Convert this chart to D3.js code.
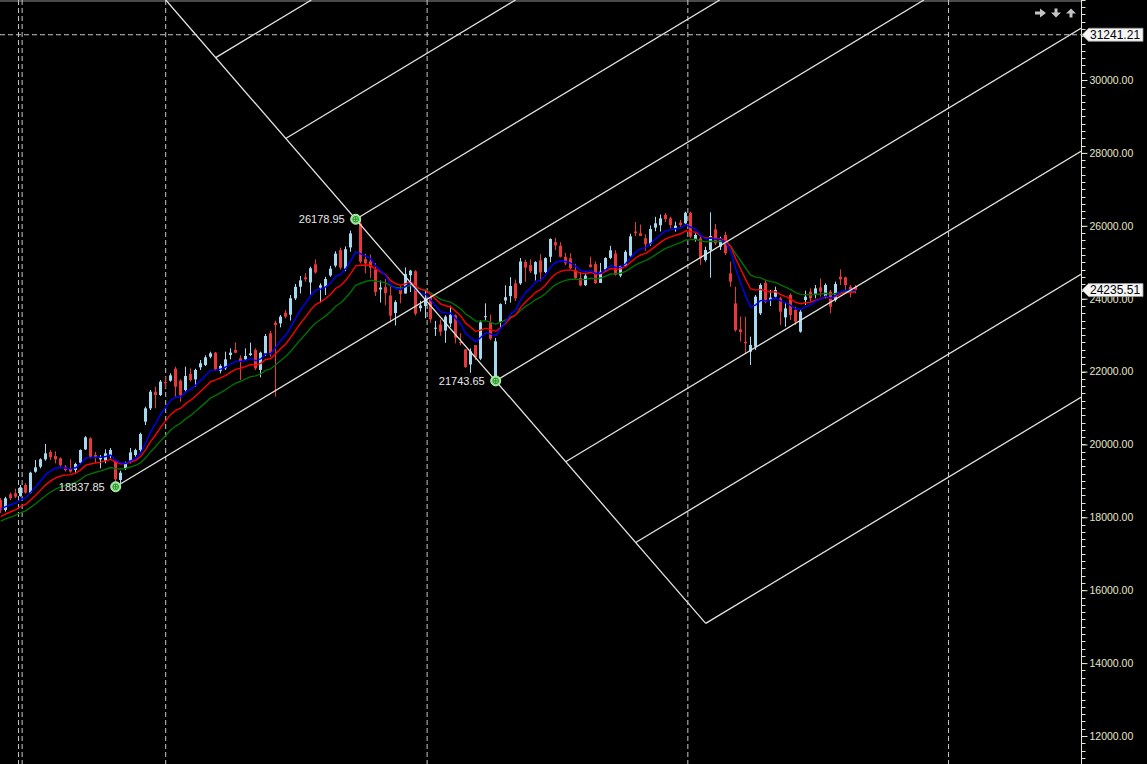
<!DOCTYPE html>
<html><head><meta charset="utf-8">
<script src="https://cdn.jsdelivr.net/npm/d3@7"></script>
<style>html,body{margin:0;padding:0;background:#000;overflow:hidden}</style>
</head><body><svg id="c" width="1147" height="764"></svg>
<script>
// ---------- DATA (weekly candles) ----------
const firstWeek = "2023-05-15";
const opens = [18475,18201,18632,18660,18585,18887,18676,19252,19390,19592,19792,19683,19619,19390,19345,19299,19499,19866,20168,19710,
19592,19554,19683,19554,19024,19335,19554,19710,19847,20625,20991,21447,21356,21713,21750,22079,21750,21493,21932,21786,
22116,22180,22408,22518,22024,22088,22454,22591,22363,22335,22454,22591,22043,22500,23049,23341,23323,23616,23560,24010,
24329,24587,24445,24943,24303,24320,24636,24907,25333,24823,25406,25872,26061,25085,25023,24798,24252,24316,24087,23605,
24253,24141,24643,24753,23738,23801,24045,23195,23290,23125,23320,23543,22810,22609,22194,22727,22353,23515,23342,21758,
23368,23949,24070,24419,24420,25005,24919,24669,25051,24732,25150,25551,25450,25149,25105,24782,24566,24371,24938,24949,
24432,24802,25118,25239,24634,24899,25181,25843,25795,25658,25503,25950,26013,26300,26204,25930,26085,26067,26359,25628,
25655,25061,25335,25902,25426,25747,24695,23871,23158,22820,22545,22682,23597,24439,23963,24054,24009,23487,24100,23688,
23094,23963,24192,24100,24311,24054,24192,23963,24603,24585,24329,24320];
const highs = [18530,18566,18676,18786,18887,18933,19252,19573,19619,20012,19847,19811,19647,19436,19592,19499,19866,20231,20195,19792,
19710,19866,19902,19573,19280,19527,19902,19884,20323,21036,21493,21585,21768,21860,21951,22134,21786,22134,22088,22079,
22317,22445,22545,22536,22198,22545,22637,22802,22445,22637,22792,22637,22545,23030,23122,23396,23551,23689,24100,24402,
24622,24700,24878,25078,24420,24600,24900,25300,25400,25433,25870,26277,26150,25234,25212,24978,24498,24537,24336,23956,
24354,24857,24792,24781,23939,24226,24089,23391,23426,23546,23807,23568,23050,22614,22634,22727,23403,23870,23565,22923,
23872,24365,24589,24526,25116,25070,25079,25029,25222,25136,25654,25669,25548,25255,25246,24956,24734,24674,25154,25021,
24980,25139,25449,25331,24904,25330,25781,26104,26032,25764,26010,26246,26310,26350,26250,26112,26158,26387,26387,25792,
25701,25426,26369,26048,25701,25838,25015,24329,23506,23506,22957,24100,24420,24512,24237,24329,24054,23871,24146,23780,
23688,24219,24283,24375,24558,24420,24237,24466,24805,24603,24375,24375];
const lows = [18118,18155,18475,18522,18566,18650,18650,19225,19345,19554,19573,19482,19390,19254,19225,19225,19463,19847,19619,19482,
19345,19482,19619,18837.85,18933,19299,19482,19665,19802,20533,20945,20991,21329,21540,21722,21310,21173,21447,21722,21585,
22043,22152,22363,22024,21951,22043,22335,22500,21768,22299,22427,22043,21841,22427,22408,21310,23213,23460,23400,23963,
24141,24466,24074,24686,23894,24100,24600,24860,24801,24753,25286,25847,24966,24694,24567,24074,23894,23817,23350,23263,
23873,24140,24180,23537,23647,23460,23344,22976,22981,22787,23222,22774,22720,22105,21964,22314,22314,23412,22857,21743.65,
23207,23847,23890,23935,24378,24462,24704,24500,24473,24700,25000,25331,25129,24918,24806,24535,24337,24345,24852,24404,
24432,24751,25085,24629,24587,24885,25152,25718,25718,25318,25449,25849,25842,26100,25930,25838,25975,26048,25655,25564,
24923,25015,24576,25472,25335,25198,24329,23094,22820,22499,22179,22591,23551,23871,23798,24009,23277,23231,23414,23277,
23066,23826,23917,24009,24054,24009,23597,23917,24375,24237,24036,24146];
const closes = [18201,18522,18522,18566,18823,18676,19225,19372,19592,19756,19647,19592,19436,19299,19254,19463,19847,20195,19665,19665,
19647,19756,19847,19043,19225,19482,19783,19847,20286,20991,21447,21356,21722,21676,21896,21585,21356,21878,21768,22043,
22226,22390,22500,22061,22152,22335,22518,22518,22271,22427,22500,22088,22518,22975,22500,23277,23506,23506,24011,24324,
24502,24531,24834,24718,24367,24541,24823,25235,24852,25356,25791,26178.95,25015,24964,24854,24181,24304,24148,23533,23907,
24131,24678,24768,23588,23813,24005,23432,23203,23092,23508,23560,22929,22796,22125,22553,22397,23350,23519,22904,22829,
23851,24039,24347,24008,25020,24853,24751,25003,24719,25112,25637,25461,25150,24968,24837,24565,24363,24631,24870,24427,
24741,25114,25327,24655,24894,25285,25710,25795,25722,25492,25910,26068,26203,26186,26021,26002,26021,26359,25701,25747,
25106,25335,25719,25518,25609,25244,24466,23140,23085,22774,22728,24054,24375,23917,24027,24237,23643,23734,23551,23368,
23643,24054,24009,24283,24192,24375,23780,24402,24530,24375,24219,24235.51];
const hiddenBars = [71];
const pivotBars = [23, 71, 99];
const pivotPrices = [18837.85, 26178.95, 21743.65];
const emaPeriods = [21, 13, 8];
const emaStart = [17900, 18020, 18230];
const separatorDates = ["2023-06-09","2023-06-14","2024-01-01","2025-01-01","2026-01-01","2027-01-01"];
const yTickValues = [12000,14000,16000,18000,20000,22000,24000,26000,28000,30000];
const levelPrice = 31241.21;
const lastPrice = closes[closes.length-1];

// ---------- SETUP ----------
const W = 1147, H = 764, plotR = 1081;
const svg = d3.select("#c");
const day = 864e5;
const t0 = new Date(firstWeek + "T00:00:00Z");
const dateOf = i => new Date(t0.getTime() + i*7*day);
const n = closes.length;
const x = d3.scaleUtc().domain([t0, dateOf(n-1)]).range([0.7, 0.7 + 5*(n-1)]);
const y = d3.scaleLinear().domain([12000, 30000]).range([736, 80]);
const font = "'Liberation Sans', Arial, sans-serif";

svg.append("rect").attr("width", W).attr("height", H).attr("fill", "#000");
svg.append("rect").attr("x",0).attr("y",0).attr("width",plotR).attr("height",2).attr("fill","#4a4a4a");

svg.append("defs").append("clipPath").attr("id","plot")
  .append("rect").attr("x",0).attr("y",0).attr("width",plotR).attr("height",H);
const g = svg.append("g").attr("clip-path","url(#plot)");

// separators
g.selectAll("line.sep").data(separatorDates).join("line")
  .attr("x1", d => x(new Date(d+"T00:00:00Z"))).attr("x2", d => x(new Date(d+"T00:00:00Z")))
  .attr("y1", 0).attr("y2", H)
  .attr("stroke", "#c8c8c8").attr("stroke-width", 1).attr("stroke-dasharray", "5,3");
g.append("line").attr("x1",0).attr("x2",plotR).attr("y1",y(levelPrice)).attr("y2",y(levelPrice))
  .attr("stroke","#c8c8c8").attr("stroke-width",1).attr("stroke-dasharray","5,3");

// candles
const bars = d3.range(n).filter(i => !hiddenBars.includes(i));
const up = i => closes[i] >= opens[i];
const cg = g.append("g");
cg.selectAll("line").data(bars).join("line")
  .attr("x1", i => Math.round(x(dateOf(i))-1.5)+1.5).attr("x2", i => Math.round(x(dateOf(i))-1.5)+1.5)
  .attr("y1", i => y(highs[i])).attr("y2", i => y(lows[i]))
  .attr("stroke", i => up(i) ? "#a4d9ef" : "#e8383a").attr("stroke-width", 1);
cg.selectAll("rect").data(bars).join("rect")
  .attr("x", i => Math.round(x(dateOf(i))-1.5)).attr("width", 3)
  .attr("y", i => y(Math.max(opens[i], closes[i])))
  .attr("height", i => Math.max(1, Math.abs(y(opens[i]) - y(closes[i]))))
  .attr("fill", i => up(i) ? "#a4d9ef" : "#e8383a");

// EMAs
function ema(vals, per, seed){ const k = 2/(per+1); let e = seed; return vals.map((v,i)=> i===0 ? e : (e = e + k*(v-e))); }
const emaColors = ["#007000", "#ff0000", "#0000ff"];
emaPeriods.forEach((p, j) => {
  const vals = ema(closes, p, emaStart[j]);
  g.append("path").datum(vals)
   .attr("d", d3.line().x((d,i)=>x(dateOf(i))).y(d=>y(d)))
   .attr("fill","none").attr("stroke", emaColors[j]).attr("stroke-width", 1.4);
});

// pitchfork
const P = pivotBars.map((b,k) => [x(dateOf(b)), y(pivotPrices[k])]);
const d = [(P[2][0]-P[1][0])/2, (P[2][1]-P[1][1])/2];
const M = [(P[1][0]+P[2][0])/2, (P[1][1]+P[2][1])/2];
const m = [M[0]-P[0][0], M[1]-P[0][1]];
function ray(S){
  const tx = (plotR - S[0]) / m[0];
  const ty = (0 - S[1]) / m[1];
  const t = Math.min(tx, ty);
  return [S, [S[0] + t*m[0], S[1] + t*m[1]]];
}
const segs = [];
[-2,-1,0,2,3,4,5].forEach(k => segs.push(ray([P[1][0]+k*d[0], P[1][1]+k*d[1]])));
segs.push(ray(P[0]));
const tTop = -P[1][1]/d[1];
segs.push([[P[1][0]+tTop*d[0], 0], [P[1][0]+5*d[0], P[1][1]+5*d[1]]]);
const pf = g.append("g");
pf.selectAll("line").data(segs).join("line")
  .attr("x1", s=>s[0][0]).attr("y1", s=>s[0][1]).attr("x2", s=>s[1][0]).attr("y2", s=>s[1][1])
  .attr("stroke", "#e4e4e0").attr("stroke-width", 1.3);

// pivot markers + labels
const pv = g.append("g");
P.forEach((p,k) => {
  const mk = pv.append("g").attr("transform", `translate(${p[0]},${p[1]})`);
  mk.append("circle").attr("r", 5).attr("fill", "#8fe88f").attr("stroke", "#b8f7b0").attr("stroke-width", 1);
  mk.append("circle").attr("r", 2.8).attr("fill", "none").attr("stroke", "#2e8b2e").attr("stroke-width", 1);
  mk.append("path").attr("d","M-2.8,0H2.8M0,-2.8V2.8").attr("stroke","#2e8b2e").attr("stroke-width",1);
  pv.append("text").attr("x", p[0]-11).attr("y", p[1]).attr("dy","0.35em")
    .attr("text-anchor","end").attr("fill","#e8e8e8").attr("font-family",font).attr("font-size",11)
    .text(d3.format(".2f")(pivotPrices[k]));
});

// right axis
const ax = svg.append("g").attr("transform", `translate(${plotR+0.5},0)`);
ax.append("line").attr("x1",0).attr("x2",0).attr("y1",0).attr("y2",H).attr("stroke","#e6e6cc");
const minorTicks = d3.range(11200, 32400, 200);
ax.selectAll("line.mn").data(minorTicks).join("line").attr("class","mn")
  .attr("x1",0).attr("x2",4).attr("y1",v=>Math.round(y(v))+0.5).attr("y2",v=>Math.round(y(v))+0.5)
  .attr("stroke","#e6e6cc");
const yAxis = d3.axisRight(y).tickValues(yTickValues).tickSize(6).tickPadding(2).tickFormat(d3.format(".2f"));
const ya = ax.append("g").call(yAxis);
ya.select(".domain").remove();
ya.selectAll("line").attr("stroke","#e6e6cc");
ya.selectAll("text").attr("fill","#e6e6cc").attr("font-family",font).attr("font-size",10.5);

// price boxes
[levelPrice, lastPrice].forEach(v => {
  const yy = y(v);
  svg.append("path")
    .attr("d", `M${plotR+1},${yy} L${plotR+7.5},${yy-6.5} H1143 V${yy+6.5} H${plotR+7.5} Z`)
    .attr("fill","#f6f6f6").attr("stroke","#9a9a9a").attr("stroke-width",0.8);
  svg.append("text").attr("x", 1090).attr("y", yy).attr("dy","0.36em")
    .attr("fill","#000").attr("font-family",font).attr("font-size",12)
    .text(d3.format(".2f")(v));
});

// top-right arrow icons
const ic = svg.append("g").attr("fill","#c4c4c4");
ic.append("path").attr("d","M1035,11.5H1040V8.5L1046,13L1040,17.5V14.5H1035Z");
ic.append("path").attr("d","M1054.5,8.5H1057.5V12.5H1061L1056,17.5L1051,12.5H1054.5Z");
ic.append("path").attr("d","M1071,8.5L1076,13.5H1072.5V17.5H1069.5V13.5H1066Z");
</script></body></html>
